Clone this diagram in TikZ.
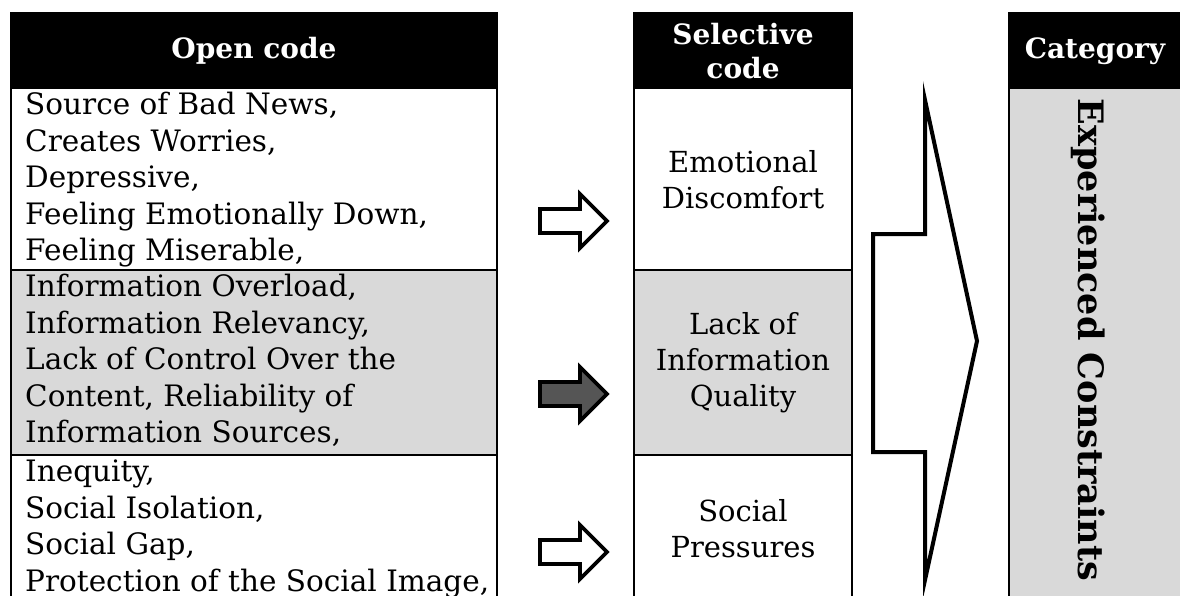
\documentclass[tikz,border=0pt]{standalone}
\usepackage{fontspec}
\setmainfont{DejaVu Serif}
\definecolor{rowgray}{HTML}{D9D9D9}
\definecolor{arrowgray}{HTML}{555555}
\begin{document}
\begin{tikzpicture}[x=1pt,y=-1pt]
\tikzset{
  cell/.style={draw=black, line width=2pt},
  headcell/.style={fill=black, draw=black, line width=2pt},
  headtext/.style={text=white, font=\bfseries\fontsize{28}{34}\selectfont, align=center, inner sep=0pt},
  bodytext/.style={font=\fontsize{29.5}{36.5}\selectfont, inner sep=0pt, align=left, anchor=north west},
  seltext/.style={font=\fontsize{29}{36}\selectfont, inner sep=0pt, align=center},
  blockarrow/.style={draw=black, line width=3.8pt, line join=miter, miter limit=10},
  smallarrow/.pic={
    \path[blockarrow, pic actions] (0,-12) -- (40,-12) -- (40,-27) -- (67,0)
      -- (40,27) -- (40,12) -- (0,12) -- cycle;
  },
}
\useasboundingbox (0,0) rectangle (1180,596);
\clip (0,0) rectangle (1180,596);
\fill[white] (0,0) rectangle (1180,596);

% ---- Open code column ----
\path[headcell] (11,13) rectangle (497,88);
\node[headtext] (openhead) at (254,51) {Open code};
\path[cell, fill=white]   (11,88)  rectangle (497,270);
\path[cell, fill=rowgray] (11,270) rectangle (497,455);
\path[cell, fill=white]   (11,455) rectangle (497,620);
\node[bodytext] (open1) at (25,92) {Source of Bad News,\\Creates Worries,\\Depressive,\\Feeling Emotionally Down,\\Feeling Miserable,};
\node[bodytext] (open2) at (25,274) {Information Overload,\\Information Relevancy,\\Lack of Control Over the\\Content, Reliability of\\Information Sources,};
\node[bodytext] (open3) at (25,460) {Inequity,\\Social Isolation,\\Social Gap,\\Protection of the Social Image,};

% ---- Small arrows ----
\pic[fill=white]      at (540,221) {smallarrow};
\pic[fill=arrowgray]  at (540,394) {smallarrow};
\pic[fill=white]      at (540,552) {smallarrow};

% ---- Selective code column ----
\path[headcell] (634,13) rectangle (852,88);
\node[headtext] (selhead) at (743,51) {Selective\\code};
\path[cell, fill=white]   (634,88)  rectangle (852,270);
\path[cell, fill=rowgray] (634,270) rectangle (852,455);
\path[cell, fill=white]   (634,455) rectangle (852,620);
\node[seltext] (sel1) at (743,180) {Emotional\\Discomfort};
\node[seltext] (sel2) at (743,363) {Lack of\\Information\\Quality};
\node[seltext] (sel3) at (743,529) {Social\\Pressures};

% ---- Big arrow ----
\path[blockarrow, line width=4pt, fill=white] (873,234) -- (925,234) -- (925,100) -- (977,341)
  -- (925,580) -- (925,452) -- (873,452) -- cycle;

% ---- Category column ----
\path[headcell] (1009,13) rectangle (1200,88);
\node[headtext] (cathead) at (1095,51) {Category};
\path[cell, fill=rowgray] (1009,88) rectangle (1200,620);
\node[font=\bfseries\fontsize{35}{42}\selectfont, rotate=-90, inner sep=0pt] (cat) at (1088,340) {Experienced Constraints};
\end{tikzpicture}
\end{document}
